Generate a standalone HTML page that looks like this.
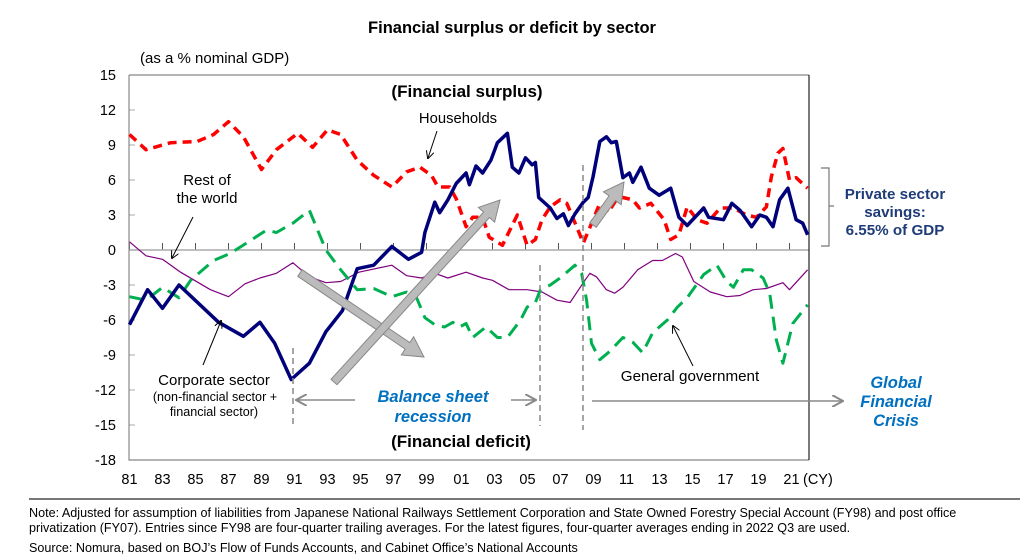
<!DOCTYPE html>
<html><head><meta charset="utf-8">
<style>
body{margin:0;background:#fff;}
svg{display:block;font-family:"Liberation Sans",Arial,sans-serif;}
</style></head>
<body>
<svg id="chart" width="1024" height="558" viewBox="0 0 1024 558" xmlns="http://www.w3.org/2000/svg">
<defs>
<marker id="ah" markerWidth="8" markerHeight="8" refX="7" refY="4" orient="auto" markerUnits="userSpaceOnUse"><path d="M0,0 L8,4 L0,8" fill="none" stroke="#000" stroke-width="1"/></marker>
<marker id="ahg" markerWidth="12" markerHeight="12" refX="10" refY="6" orient="auto" markerUnits="userSpaceOnUse"><path d="M0,0 L11,6 L0,12" fill="none" stroke="#888" stroke-width="2"/></marker>
</defs>
<text x="512" y="33" text-anchor="middle" font-size="16.5" font-weight="bold">Financial surplus or deficit by sector</text>
<text x="140" y="63" font-size="15">(as a % nominal GDP)</text>
<g id="axes"></g>
<g id="series"></g>
<g id="annot">
<text x="467" y="97" text-anchor="middle" font-size="17" font-weight="bold">(Financial surplus)</text>
<text x="461" y="447" text-anchor="middle" font-size="17" font-weight="bold">(Financial deficit)</text>
<text x="458" y="123" text-anchor="middle" font-size="14.8">Households</text>
<line x1="437" y1="131" x2="428" y2="158" stroke="#000" stroke-width="1" marker-end="url(#ah)"/>
<text font-size="15" text-anchor="middle"><tspan x="207" y="185">Rest of</tspan><tspan x="207" y="203">the world</tspan></text>
<line x1="193" y1="217" x2="172" y2="258" stroke="#000" stroke-width="1" marker-end="url(#ah)"/>
<text text-anchor="middle"><tspan x="214" y="385" font-size="15">Corporate sector</tspan><tspan x="215" y="401" font-size="12.6">(non-financial sector +</tspan><tspan x="214" y="416" font-size="12.6">financial sector)</tspan></text>
<line x1="203" y1="365" x2="221" y2="321" stroke="#000" stroke-width="1" marker-end="url(#ah)"/>
<text x="690" y="381" text-anchor="middle" font-size="15.2">General government</text>
<line x1="693" y1="366" x2="673" y2="326" stroke="#000" stroke-width="1" marker-end="url(#ah)"/>
<line x1="293" y1="348" x2="293" y2="424" stroke="#888" stroke-width="1.5" stroke-dasharray="6,4"/>
<line x1="540" y1="265" x2="540" y2="426" stroke="#888" stroke-width="1.5" stroke-dasharray="6,4"/>
<line x1="583" y1="165" x2="583" y2="430" stroke="#888" stroke-width="1.5" stroke-dasharray="6,4"/>
<line x1="355" y1="400" x2="297" y2="400" stroke="#888" stroke-width="1.5" marker-end="url(#ahg)"/>
<line x1="511" y1="400" x2="535" y2="400" stroke="#888" stroke-width="1.5" marker-end="url(#ahg)"/>
<line x1="592" y1="401" x2="842" y2="401" stroke="#888" stroke-width="1.5" marker-end="url(#ahg)"/>
<text fill="#0070c0" font-size="16.5" font-weight="bold" font-style="italic" text-anchor="middle"><tspan x="433" y="402">Balance sheet</tspan><tspan x="433" y="422">recession</tspan></text>
<text fill="#0070c0" font-size="16.5" font-weight="bold" font-style="italic" text-anchor="middle"><tspan x="896" y="388">Global</tspan><tspan x="896" y="407">Financial</tspan><tspan x="896" y="426">Crisis</tspan></text>
<path d="M821,168 H829 V206 H834 M829,206 V246 H821" fill="none" stroke="#777" stroke-width="1.2"/>
<text fill="#1f3c78" font-size="15.2" font-weight="bold" text-anchor="middle"><tspan x="895" y="199">Private sector</tspan><tspan x="895" y="217">savings:</tspan><tspan x="895" y="235">6.55% of GDP</tspan></text>
</g>
<line x1="29" y1="499" x2="1020" y2="499" stroke="#777" stroke-width="2"/>
<text font-size="12.6"><tspan x="29" y="517">Note: Adjusted for assumption of liabilities from Japanese National Railways Settlement Corporation and State Owned Forestry Special Account (FY98) and post office</tspan><tspan x="29" y="532">privatization (FY07). Entries since FY98 are four-quarter trailing averages. For the latest figures, four-quarter averages ending in 2022 Q3 are used.</tspan></text>
<text x="29" y="552" font-size="12.6">Source: Nomura, based on BOJ’s Flow of Funds Accounts, and Cabinet Office’s National Accounts</text>
</svg>
<script>
const yTicks=[15,12,9,6,3,0,-3,-6,-9,-12,-15,-18];
const xTickLabels=["81","83","85","87","89","91","93","95","97","99","01","03","05","07","09","11","13","15","17","19","21"];
const xTickYears=[1981,1983,1985,1987,1989,1991,1993,1995,1997,1999,2001,2003,2005,2007,2009,2011,2013,2015,2017,2019,2021];

const corpYears=[1981,1982.1,1983,1984,1986.4,1987.9,1988.9,1989.8,1990.8,1991.9,1992.9,1993.9,1994.8,1995.8,1996.9,1997.9,1998.7,1998.9,1999.5,1999.8,2000.3,2000.8,2001.4,2001.6,2002,2002.4,2002.9,2003.3,2003.9,2004.2,2004.6,2005,2005.4,2005.6,2005.8,2006.5,2006.9,2007.3,2007.6,2008,2008.5,2008.8,2009.1,2009.5,2009.9,2010.2,2010.5,2010.9,2011.3,2011.5,2012,2012.5,2013.1,2013.8,2014.3,2014.8,2015.4,2015.8,2016.1,2017,2017.5,2018,2018.7,2019.2,2019.6,2020,2020.4,2020.9,2021.4,2021.8,2022.1];
const corpValues=[-6.4,-3.4,-5,-3,-6.2,-7.4,-6.2,-8,-11.1,-9.7,-7,-5.2,-1.6,-1.3,0.3,-0.8,-0.2,1.5,4.1,3.2,4.3,5.7,6.6,5.6,7.2,6.6,7.7,9.2,10.0,7.1,6.6,7.9,7.3,7.5,4.5,3.6,2.7,3.1,2.1,3.1,4.1,4.5,6.3,9.3,9.7,9.2,9.3,6.2,6.6,5.8,7.1,5.3,4.7,5.3,2.8,2.1,3.0,3.6,2.8,2.6,4.0,3.4,2.0,3.0,2.8,2.0,4.3,5.3,2.6,2.3,1.3];

const hhYears=[1981,1982,1983.5,1985.1,1986.1,1987,1987.9,1989,1989.9,1991.2,1992.1,1993,1993.8,1994.8,1995.8,1996.9,1997.8,1998.6,1999.3,1999.7,2000.4,2000.8,2001.4,2001.8,2002.4,2002.8,2003.6,2004.5,2005.1,2005.6,2006,2006.5,2007.1,2007.5,2008.1,2008.5,2009.1,2009.5,2010,2010.5,2010.9,2011.5,2011.9,2012.6,2013,2013.4,2013.8,2014.3,2014.8,2015.4,2016,2016.8,2017.6,2018.4,2019,2019.6,2019.9,2020.3,2020.6,2021,2021.4,2022.1];
const hhValues=[9.9,8.6,9.2,9.3,9.9,11.0,9.7,6.9,8.6,10.0,8.8,10.3,9.9,7.7,6.4,5.4,6.7,7.1,6.4,5.4,5.4,4.4,2.0,2.8,2.8,1.1,0.4,3.0,0.4,0.9,2.6,3.7,4.3,4.0,2.0,0.6,2.6,4.0,3.2,4.3,4.5,4.3,3.6,4.0,3.3,2.6,0.9,1.3,3.7,2.6,2.3,3.6,3.6,3.0,2.8,3.7,6.3,8.3,8.7,6.0,6.2,5.3];

const govYears=[1981,1982,1983,1984,1984.7,1986.1,1987.1,1988.1,1989.3,1989.9,1990.9,1991.9,1992.9,1993.8,1994.8,1995.8,1996.9,1997.8,1998.4,1998.9,1999.5,2000.1,2000.6,2001,2001.4,2001.8,2002.6,2003.3,2003.9,2004.7,2005.1,2005.6,2005.9,2006.5,2007.1,2008,2008.4,2008.7,2009,2009.5,2010.1,2010.9,2011.5,2012.1,2012.7,2013.6,2014.2,2014.8,2015.8,2016.6,2017.2,2017.6,2018.2,2018.7,2019.4,2019.8,2020.2,2020.6,2021.2,2022.1];
const govValues=[-4.0,-4.3,-3.2,-4.1,-2.6,-0.9,-0.3,0.6,1.7,1.5,2.3,3.4,0,-1.7,-3.4,-3.3,-4.0,-3.6,-4.1,-5.8,-6.4,-6.6,-6.2,-6.6,-6.3,-7.5,-6.6,-7.5,-7.5,-6.0,-4.9,-4.5,-3.4,-3.0,-2.4,-1.3,-2.0,-4.3,-8.0,-9.4,-8.7,-7.5,-7.9,-8.8,-7.1,-6.0,-4.9,-4.1,-2.1,-1.3,-2.7,-3.2,-1.7,-1.7,-2.4,-3.7,-7.7,-9.7,-6.3,-4.7];

const rowYears=[1981,1982,1983,1984.1,1985.9,1987,1988,1988.9,1989.9,1990.9,1991.9,1992.9,1993.8,1994.9,1996.9,1997.8,1998.7,1999.5,2000.3,2001.4,2002.4,2003,2004,2005.1,2006,2006.9,2007.7,2008.5,2008.9,2009.3,2009.9,2010.4,2010.9,2011.8,2012.7,2013.3,2014.1,2014.5,2015.2,2016.2,2017.2,2018,2018.8,2019.6,2020.6,2021,2022.1];
const rowValues=[0.7,-0.5,-0.8,-1.9,-3.4,-4.0,-2.9,-2.4,-2.0,-1.1,-2.3,-2.8,-2.7,-1.9,-1.3,-2.2,-2.4,-2.0,-2.4,-1.9,-2.4,-2.6,-3.4,-3.4,-3.6,-4.3,-4.5,-2.8,-2.0,-2.3,-3.4,-3.7,-3.2,-1.7,-0.9,-0.9,-0.3,-0.6,-2.7,-3.6,-4.0,-3.9,-3.4,-3.3,-2.8,-3.4,-1.7];

const NS='http://www.w3.org/2000/svg';
const L=129,R=809,T=75,B=460,yMax=15,yMin=-18;
function xs(yr){return 129.5+(yr-1981)*16.5;}
function ys(v){return T+(yMax-v)*(B-T)/(yMax-yMin);}
function mk(tag,attrs,parent){const e=document.createElementNS(NS,tag);for(const k in attrs)e.setAttribute(k,attrs[k]);parent.appendChild(e);return e;}
const axes=document.getElementById('axes');
const series=document.getElementById('series');

yTicks.forEach(v=>{
  const t=mk('text',{x:116,y:ys(v)+5,'text-anchor':'end','font-size':'14.5'},axes);
  
  
  t.textContent=String(v);
  const tk=mk('line',{x1:L,x2:L+6,y1:ys(v),y2:ys(v),stroke:'#aaa','stroke-width':1},axes);
  
  
});
xTickYears.forEach((yr,i)=>{
  const t=mk('text',{x:xs(yr)+(yr>2000?2:0),y:484,'text-anchor':'middle','font-size':'14.5'},axes);
  
  
  t.textContent=xTickLabels[i];
  const tk=mk('line',{x1:xs(yr),x2:xs(yr),y1:ys(0),y2:ys(0)-7,stroke:'#555','stroke-width':1},axes);
  
  
});
const cy=mk('text',{x:803,y:484,'font-size':'14.5'},axes);


cy.textContent='(CY)';
const zl=mk('line',{x1:L,x2:R,y1:ys(0),y2:ys(0),stroke:'#aaa','stroke-width':1.5},axes);


const frame=mk('path',{d:`M${L},${T} H${R} M${L},${T} V${B} H${R}`,fill:'none',stroke:'#888','stroke-width':1.2},axes);


const rb=mk('line',{x1:R,x2:R,y1:T,y2:B,stroke:'#222','stroke-width':1.2},axes);



function line(years,vals,attrs,name){
  const d=years.map((y,i)=>(i?'L':'M')+xs(y).toFixed(1)+','+ys(vals[i]).toFixed(1)).join(' ');
  const p=mk('path',Object.assign({d:d,fill:'none','stroke-linejoin':'round'},attrs),series);
  
  
}
line(rowYears,rowValues,{stroke:'#800080','stroke-width':1.2},'rest-of-world-line');
line(govYears,govValues,{stroke:'#00b050','stroke-width':3,'stroke-dasharray':'14,8'},'general-government-line');
line(hhYears,hhValues,{stroke:'#ff0000','stroke-width':3.5,'stroke-dasharray':'9,6'},'households-line');
line(corpYears,corpValues,{stroke:'#00007a','stroke-width':3.5},'corporate-sector-line');

function garrow(x1,y1,x2,y2,name){
  const dx=x2-x1,dy=y2-y1,len=Math.hypot(dx,dy),ux=dx/len,uy=dy/len,px=-uy,py=ux;
  const w=4,hw=11,hl=20;
  const bx=x2-ux*hl,by=y2-uy*hl;
  const pts=[[x1+px*w,y1+py*w],[bx+px*w,by+py*w],[bx+px*hw,by+py*hw],[x2,y2],[bx-px*hw,by-py*hw],[bx-px*w,by-py*w],[x1-px*w,y1-py*w]];
  const p=mk('polygon',{points:pts.map(p=>p[0].toFixed(1)+','+p[1].toFixed(1)).join(' '),fill:'#bbb',stroke:'#888','stroke-width':1},series);
  
  
}
garrow(300,273,424,357,'corporate-trend-arrow');
garrow(334,382,500,200,'corporate-rise-arrow');
garrow(593,225,624,182,'post-gfc-rise-arrow');
</script>
</body></html>
